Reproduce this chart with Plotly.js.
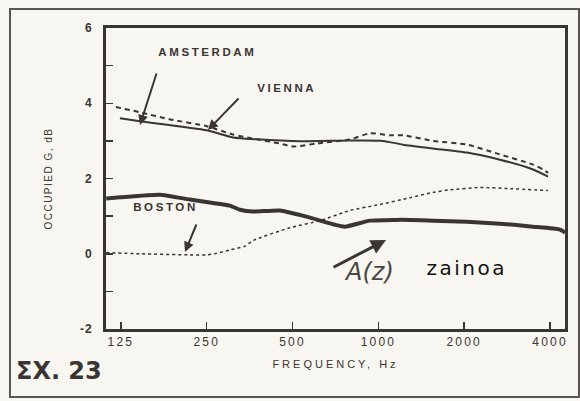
<!DOCTYPE html>
<html>
<head>
<meta charset="utf-8">
<script src="https://cdn.plot.ly/plotly-3.0.1.min.js"></script>
<style>
  html, body { margin: 0; padding: 0; background: #f7f6f0; }
  #chart { width: 580px; height: 401px; }
  .annotation[data-index="0"] .annotation-text,
  .annotation[data-index="1"] .annotation-text,
  .annotation[data-index="2"] .annotation-text { letter-spacing: 2.6px; }
  .annotation[data-index="8"] .annotation-text { letter-spacing: 2.5px; }
  .xtick text { letter-spacing: 2.2px; }
  .ytick text { letter-spacing: 1px; }
  .g-xtitle text { letter-spacing: 3px; }
  .g-ytitle text { letter-spacing: 1.5px; }
</style>
</head>
<body>
<div id="chart"></div>
<script>
// Frequency (Hz) and occupied G (dB)
const amsterdamFreq = [124, 146, 250, 309, 375, 531, 795, 1038, 1220, 1554, 2046, 2670, 3487, 3938];
const amsterdamG    = [3.6, 3.52, 3.28, 3.09, 3.04, 2.99, 3.01, 3.0, 2.9, 2.8, 2.69, 2.5, 2.24, 2.05];

const viennaFreq = [120, 146, 186, 250, 309, 375, 451, 502, 609, 795, 934, 1098, 1220, 1554, 2046, 2670, 3487, 3779, 3938];
const viennaG    = [3.9, 3.76, 3.57, 3.39, 3.17, 3.04, 2.93, 2.85, 2.93, 3.04, 3.2, 3.15, 3.15, 3.0, 2.9, 2.64, 2.37, 2.24, 2.15];

const bostonFreq = [111, 124, 171, 218, 256, 301, 327, 363, 451, 576, 704, 763, 934, 1143, 1290, 1554, 2046, 2670, 3487, 4337, 4515];
const bostonG    = [1.47, 1.5, 1.57, 1.44, 1.36, 1.28, 1.17, 1.12, 1.15, 0.96, 0.77, 0.72, 0.88, 0.9, 0.9, 0.88, 0.85, 0.8, 0.72, 0.64, 0.56];

const azFreq = [111, 146, 218, 250, 267, 301, 340, 363, 489, 624, 795, 1013, 1290, 1554, 1783, 2272, 2895, 3938];
const azG    = [0.03, 0, -0.03, -0.03, 0, 0.1, 0.2, 0.35, 0.69, 0.88, 1.15, 1.31, 1.49, 1.63, 1.7, 1.76, 1.73, 1.68];

const xTickVals = [125, 250, 500, 1000, 2000, 4000];
const xTickText = ['125', '250', '500', '1000', '2000', '4000'];
const yTickVals = [-2, 0, 2, 4, 6];
const yTickText = ['-2', '0', '2', '4', '6'];

const ink = '#3a3532';
const bg = '#f7f6f0';

// layout helpers: pixel -> paper
const L = 106, R = 565, T = 28, B = 329;
const px = x => (x - L) / (R - L);
const py = y => (B - y) / (B - T);

const traces = [
  {x: amsterdamFreq, y: amsterdamG, name: 'AMSTERDAM', mode: 'lines',
   line: {color: ink, width: 2, shape: 'spline', smoothing: 0.6}},
  {x: viennaFreq, y: viennaG, name: 'VIENNA', mode: 'lines',
   line: {color: ink, width: 2, dash: '5px,4px', shape: 'spline', smoothing: 0.6}},
  {x: bostonFreq, y: bostonG, name: 'BOSTON', mode: 'lines',
   line: {color: ink, width: 4, shape: 'spline', smoothing: 0.5}},
  {x: azFreq, y: azG, name: 'A(z)', mode: 'lines',
   line: {color: ink, width: 1.5, dash: 'dot', shape: 'spline', smoothing: 0.6}}
];

const font = 'Liberation Sans, Arial, sans-serif';

function label(text, x, y, size, extra) {
  return Object.assign({text: text, xref: 'paper', yref: 'paper', x: px(x), y: py(y),
    xanchor: 'center', yanchor: 'middle', showarrow: false,
    font: {family: font, size: size, color: ink, weight: 700}}, extra || {});
}
function arrow(x0, y0, x1, y1, w) {
  return {text: '', xref: 'paper', yref: 'paper', x: px(x1), y: py(y1),
    ax: x0 - x1, ay: y0 - y1, showarrow: true, arrowhead: 2, arrowsize: 1,
    arrowwidth: w || 2, arrowcolor: ink};
}

const layout = {
  width: 580, height: 401,
  margin: {l: L, r: 580 - R, t: T, b: 401 - B},
  paper_bgcolor: bg, plot_bgcolor: bg,
  showlegend: false,
  hovermode: false,
  xaxis: {
    type: 'log', range: [Math.log10(110.8), Math.log10(4515)],
    tickvals: xTickVals, ticktext: xTickText,
    ticks: 'inside', ticklen: 7, tickwidth: 1.5, tickcolor: ink,
    showgrid: false, zeroline: false,
    showline: true, mirror: true, linewidth: 3, linecolor: ink,
    tickfont: {family: font, size: 12, color: ink},
    title: {text: 'FREQUENCY, Hz', standoff: 12, font: {family: font, size: 11, color: ink}}
  },
  yaxis: {
    range: [-2, 6],
    tickvals: yTickVals, ticktext: yTickText,
    ticks: 'inside', ticklen: 7, tickwidth: 1.5, tickcolor: ink,
    minor: {tickvals: [-1, 1, 3, 5], ticks: 'inside', ticklen: 7, tickwidth: 1.5, tickcolor: ink},
    showgrid: false, zeroline: false,
    showline: true, mirror: true, linewidth: 3, linecolor: ink,
    tickfont: {family: font, size: 12, color: ink, weight: 700},
    ticklabelstandoff: 8,
    title: {text: 'OCCUPIED G, dB', standoff: 26, font: {family: font, size: 10, color: ink}}
  },
  shapes: [
    {type: 'rect', xref: 'paper', yref: 'paper',
     x0: px(10), x1: px(579), y0: py(397), y1: py(9),
     line: {color: '#5a5552', width: 2}, layer: 'below'}
  ],
  annotations: [
    label('AMSTERDAM', 207, 52, 11.5),
    label('VIENNA', 286, 88, 11.5),
    label('BOSTON', 165, 207, 11.5),
    arrow(157, 72, 140, 125, 2),
    arrow(240, 97, 208, 130, 2),
    arrow(197, 223, 185, 252, 2),
    arrow(332, 268, 386, 240, 3),
    label('A(z)', 369, 272, 24, {font: {family: 'DejaVu Sans', size: 24, color: '#4a4542', style: 'italic'}}),
    label('zainoa', 466, 268, 20, {font: {family: 'DejaVu Sans', size: 20, color: '#111'}}),
    label('ΣΧ. 23', 14, 371, 24, {xanchor: 'left', font: {family: 'DejaVu Sans', size: 24, color: ink, weight: 700}})
  ]
};

Plotly.newPlot('chart', traces, layout, {staticPlot: true, displayModeBar: false});
</script>
</body>
</html>
